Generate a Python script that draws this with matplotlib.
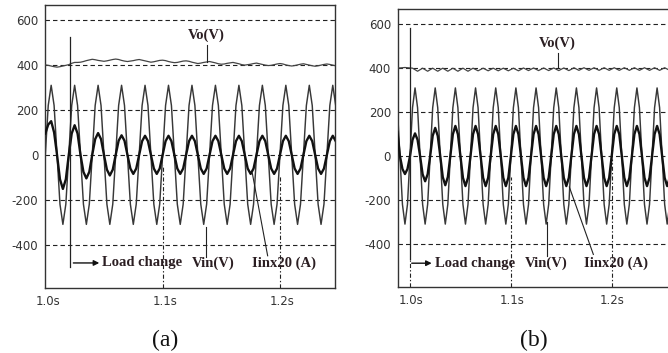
import numpy as np
import matplotlib
matplotlib.use("Agg")
import matplotlib.pyplot as plt
from matplotlib import transforms

plt.rcParams['lines.scale_dashes'] = False

# ---------------- data ----------------
dt = 0.0025          # sampling step of the read values, s
t0_a = 1.0           # first sample time, panel (a)
t0_b = 0.9875        # first sample time, panel (b)

vin_a = [
    0, 220, 310, 220, 0, -220, -310, -220,
    0, 220, 310, 220, 0, -220, -310, -220,
    0, 220, 310, 220, 0, -220, -310, -220,
    0, 220, 310, 220, 0, -220, -310, -220,
    0, 220, 310, 220, 0, -220, -310, -220,
    0, 220, 310, 220, 0, -220, -310, -220,
    0, 220, 310, 220, 0, -220, -310, -220,
    0, 220, 310, 220, 0, -220, -310, -220,
    0, 220, 310, 220, 0, -220, -310, -220,
    0, 220, 310, 220, 0, -220, -310, -220,
    0, 220, 310, 220, 0, -220, -310, -220,
    0, 220, 310, 220, 0, -220, -310, -220,
    0, 220, 310, 220,
]
iin_a = [
    95, 135, 150, 100, 0, -109, -152, -109,
    0, 95, 132, 95, 0, -76, -105, -76,
    0, 70, 97, 70, 0, -66, -92, -66,
    0, 63, 87, 63, 0, -61, -85, -61,
    0, 61, 85, 61, 0, -61, -85, -61,
    0, 61, 85, 61, 0, -61, -85, -61,
    0, 61, 85, 61, 0, -61, -85, -61,
    0, 61, 85, 61, 0, -61, -85, -61,
    0, 61, 85, 61, 0, -61, -85, -61,
    0, 61, 85, 61, 0, -61, -85, -61,
    0, 61, 85, 61, 0, -61, -85, -61,
    0, 61, 85, 61, 0, -61, -85, -61,
    0, 61, 85, 61,
]
vo_a = [
    401, 399, 396, 393, 391, 393, 396, 399,
    402, 408, 412, 412, 413, 416, 420, 423,
    426, 424, 421, 419, 417, 419, 422, 425,
    427, 425, 421, 418, 416, 418, 420, 423,
    425, 422, 419, 416, 413, 415, 418, 421,
    422, 420, 416, 413, 411, 412, 415, 418,
    419, 417, 413, 410, 407, 409, 412, 414,
    416, 413, 410, 406, 404, 405, 408, 410,
    412, 409, 406, 402, 400, 402, 404, 407,
    409, 406, 403, 400, 398, 399, 402, 405,
    407, 405, 401, 398, 396, 398, 401, 404,
    406, 403, 400, 397, 395, 397, 400, 403,
    405, 403, 400, 397,
]

vin_b = [
    220, 0, -220, -310, -220,
    0, 220, 310, 220, 0, -220, -310, -220,
    0, 220, 310, 220, 0, -220, -310, -220,
    0, 220, 310, 220, 0, -220, -310, -220,
    0, 220, 310, 220, 0, -220, -310, -220,
    0, 220, 310, 220, 0, -220, -310, -220,
    0, 220, 310, 220, 0, -220, -310, -220,
    0, 220, 310, 220, 0, -220, -310, -220,
    0, 220, 310, 220, 0, -220, -310, -220,
    0, 220, 310, 220, 0, -220, -310, -220,
    0, 220, 310, 220, 0, -220, -310, -220,
    0, 220, 310, 220, 0, -220, -310, -220,
    0, 220, 310, 220, 0, -220, -310, -220,
    0, 220, 310, 220, 0, -220, -310, -220,
]
iin_b = [
    110, 0, -59, -82, -59,
    0, 74, 103, 74, 0, -83, -115, -83,
    0, 92, 128, 92, 0, -96, -133, -96,
    0, 99, 137, 99, 0, -99, -137, -99,
    0, 99, 137, 99, 0, -99, -137, -99,
    0, 99, 137, 99, 0, -99, -137, -99,
    0, 99, 137, 99, 0, -99, -137, -99,
    0, 99, 137, 99, 0, -99, -137, -99,
    0, 99, 137, 99, 0, -99, -137, -99,
    0, 99, 137, 99, 0, -99, -137, -99,
    0, 99, 137, 99, 0, -99, -137, -99,
    0, 99, 137, 99, 0, -99, -137, -99,
    0, 99, 137, 99, 0, -99, -137, -99,
    0, 99, 137, 99, 0, -99, -137, -99,
]
vo_b = [
    402, 401, 402, 403, 402, 401,
    400, 393, 386, 393, 400, 393, 386, 393,
    400, 393, 386, 393, 400, 393, 386, 393,
    400, 393, 386, 393, 400, 393, 386, 393,
    400, 394, 388, 394, 400, 394, 388, 394,
    400, 394, 388, 394, 400, 394, 388, 394,
    400, 394, 388, 394,
    401, 395, 389, 395, 401, 395, 389, 395,
    401, 395, 389, 395, 401, 395, 389, 395,
    401, 395, 389, 395,
    402, 396, 390, 396, 402, 396, 390, 396,
    402, 396, 390, 396, 402, 396, 390, 396,
    402, 396, 390, 396, 402, 396, 390, 396,
    402, 396, 390, 396, 402, 396, 390, 396,
    402, 396, 390, 396, 402, 396, 390,
]

yticks = [-400, -200, 0, 200, 400, 600]
xticks = [1.0, 1.1, 1.2]
xticklabels = ['1.0s', '1.1s', '1.2s']
captions = ['(a)', '(b)']
label_vo = 'Vo(V)'
label_vin = 'Vin(V)'
label_iin = 'Iinx20 (A)'
label_load = 'Load change'

# ---------------- layout / styling ----------------
W, H = 668, 353
fig = plt.figure(figsize=(W / 100, H / 100), dpi=100)

TXT = '#2b1e22'
serif = ['Liberation Serif', 'DejaVu Serif']

def px_axes(left, top, right, bottom):
    return [left / W, 1 - bottom / H, (right - left) / W, (bottom - top) / H]

ax_a = fig.add_axes(px_axes(45.3, 5.0, 335.0, 288.3))
ax_b = fig.add_axes(px_axes(398.0, 9.3, 682.3, 286.7))

panels = [
    dict(ax=ax_a, t0=t0_a, vin=vin_a, iin=iin_a, vo=vo_a, xlim=(1.0, 1.2469),
         load_t=1.0208, load_top=527, load_solid_bottom=-500,
         arrow=(1.0239, 1.046), text_y=-482, load_text_x=1.048,
         vin_text_x=1.1431, vin_line=(1.1367, -455, -323),
         iin_text_x=1.2034, iin_line=((1.1895, -450), (1.1764, -81)),
         vo_text=(1.137, 534), vo_line=(1.1376, 490, 416),
         dashdot=[(1.1, -45), (1.2, -95)], xoff=2.5, caption_x=165),
    dict(ax=ax_b, t0=t0_b, vin=vin_b, iin=iin_b, vo=vo_b, xlim=(0.9881, 1.27),
         load_t=1.0, load_top=582, load_solid_bottom=-470,
         arrow=(1.0017, 1.0215), text_y=-488, load_text_x=1.0248,
         vin_text_x=1.1347, vin_line=(1.1355, -455, -300),
         iin_text_x=1.2041, iin_line=((1.1818, -448), (1.158, -141)),
         vo_text=(1.1463, 513), vo_line=(1.1471, 467, 406),
         dashdot=[(1.0, -470), (1.1, -96), (1.2, -12)], xoff=0.8, caption_x=534),
]

YLIM = (-595, 668)

for i, p in enumerate(panels):
    ax = p['ax']
    n = len(p['vin'])
    t = p['t0'] + dt * np.arange(n)
    ax.set_xlim(*p['xlim'])
    ax.set_ylim(*YLIM)
    # gridlines
    for yv in yticks:
        ax.axhline(yv, color='#222222', lw=0.8, ls=(0, (3.2, 2.2)), zorder=1)
    # series
    ax.plot(t, p['vin'], color='#383838', lw=1.05, zorder=3)
    ax.plot(t, p['iin'], color='#111111', lw=1.7, zorder=4)
    ax.plot(t, p['vo'], color='#444444', lw=0.9, zorder=3)
    # partial dash-dot vertical markers
    for xv, ytop in p['dashdot']:
        ax.plot([xv, xv], [YLIM[0], ytop], color='#222222', lw=0.8,
                ls=(0, (3, 1.5, 1, 1.5)), zorder=2)
    # load change line + arrow + texts
    ax.plot([p['load_t'], p['load_t']], [p['load_solid_bottom'], p['load_top']],
            color='#222222', lw=0.9, zorder=5)
    ax.annotate('', xy=(p['arrow'][1], p['text_y']), xytext=(p['arrow'][0], p['text_y']),
                arrowprops=dict(arrowstyle='-|>', color='#111111', lw=1.0,
                                mutation_scale=8, shrinkA=0, shrinkB=0), zorder=6)
    tkw = dict(family=serif, fontweight='bold', fontsize=10.5, color=TXT,
               va='center', zorder=7)
    ax.text(p['load_text_x'], p['text_y'], label_load, ha='left', **tkw)
    ax.text(p['vin_text_x'], p['text_y'], label_vin, ha='center', **tkw)
    ax.text(p['iin_text_x'], p['text_y'], label_iin, ha='center', **tkw)
    ax.text(p['vo_text'][0], p['vo_text'][1], label_vo, ha='center', **tkw)
    vx, vy0, vy1 = p['vin_line']
    ax.plot([vx, vx], [vy0, vy1], color='#222222', lw=0.8, zorder=5)
    (ix0, iy0), (ix1, iy1) = p['iin_line']
    ax.plot([ix0, ix1], [iy0, iy1], color='#222222', lw=0.8, zorder=5)
    ox, oy0, oy1 = p['vo_line']
    ax.plot([ox, ox], [oy0, oy1], color='#222222', lw=0.8, zorder=5)

    # ticks
    ax.set_yticks(yticks)
    ax.set_yticklabels([str(v) for v in yticks])
    ax.set_xticks(xticks)
    ax.set_xticklabels(xticklabels)
    ax.tick_params(axis='both', length=0, labelsize=8.5, labelcolor='#333333')
    ax.tick_params(axis='y', pad=5.0)
    ax.tick_params(axis='x', pad=5.0)
    off = transforms.ScaledTranslation(p['xoff'] / 100, 0, fig.dpi_scale_trans)
    for lab in ax.get_xticklabels():
        lab.set_transform(lab.get_transform() + off)
    for sp in ax.spines.values():
        sp.set_color('#333333')
        sp.set_linewidth(1.0)

    fig.text(p['caption_x'] / W, 1 - 340 / H, captions[i], family=serif,
             fontsize=17, color='#111111', ha='center', va='center')

fig.savefig('out.png', dpi=100)
